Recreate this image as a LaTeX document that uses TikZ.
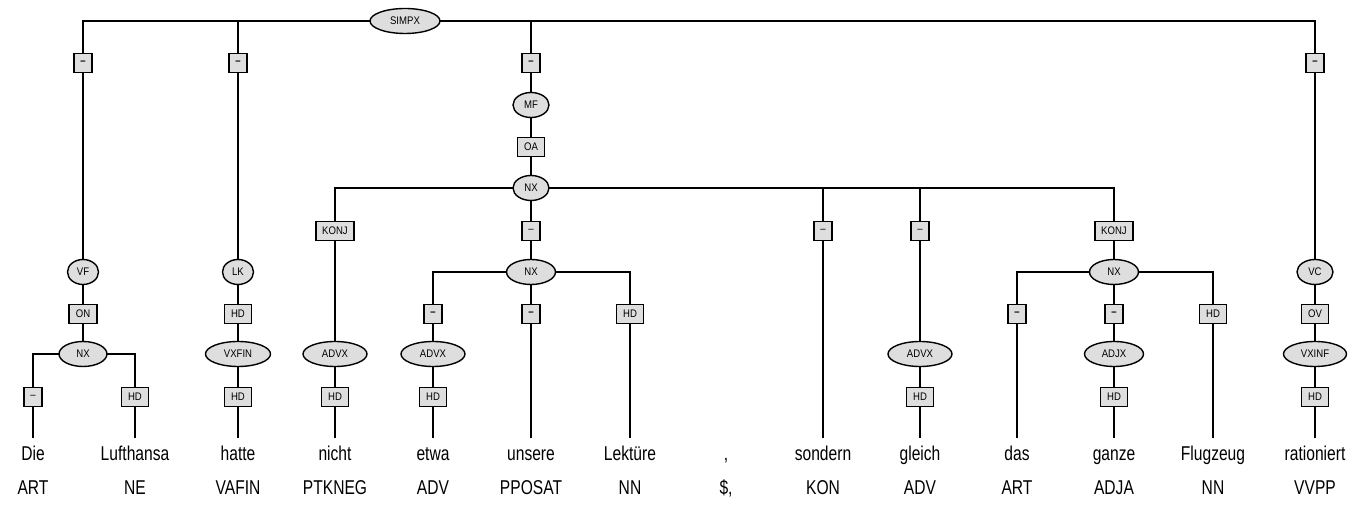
\documentclass[tikz,border=0pt]{standalone}
\usepackage{fontspec}
\setmainfont{Liberation Sans}[FakeStretch=0.78]
\newfontfamily\labfont{Liberation Sans}[FakeStretch=0.87]
\usetikzlibrary{shapes.geometric,backgrounds}
\definecolor{catfill}{gray}{0.87}
\tikzset{
  cat/.style={ellipse, draw, fill=catfill, line width=0.7pt, inner sep=0pt,
    minimum height=12.5pt, minimum width=#1, font=\labfont\fontsize{5.5}{6}\selectfont},
  cat/.default=18pt,
  fn/.style={rectangle, draw, fill=catfill, line width=0.95pt, inner xsep=3.3pt, inner ysep=0pt,
    minimum height=9.5pt, minimum width=8pt, font=\labfont\fontsize{5.5}{6}\selectfont},
  word/.style={anchor=base, inner xsep=0pt, inner ysep=4pt, text height=7.5pt, text depth=2pt,
    font=\fontsize{10}{12}\selectfont},
  tag/.style={anchor=base, inner sep=0pt, font=\fontsize{10}{12}\selectfont},
  edge/.style={line width=0.7pt}
}
\newcommand{\bd}{\textbf{\textendash}}
\newcommand{\nd}{\textendash}
\begin{document}
\begin{tikzpicture}[x=0.5pt, y=-0.5pt]
    \useasboundingbox (0,0) rectangle (1367,507);

    % top
    \node[cat=35pt] (simpx) at (405,21) {SIMPX};
    \node[fn] (fvf) at (83,63) {\bd};
    \node[fn] (flk) at (238,63) {\bd};
    \node[fn] (fmf) at (531,63) {\bd};
    \node[fn] (fvc) at (1315,63) {\bd};

    % VF
    \node[cat=15.5pt] (vf) at (83,272) {VF};
    \node[fn] (fon) at (83,314) {ON};
    \node[cat=24pt] (nxa) at (83,354) {NX};
    \node[fn] (fart) at (33,397) {\nd};
    \node[fn] (fhda) at (135,397) {HD};

    % LK
    \node[cat=15.5pt] (lk) at (238,272) {LK};
    \node[fn] (fhdb) at (238,314) {HD};
    \node[cat=32.5pt] (vxfin) at (238,354) {VXFIN};
    \node[fn] (fhdc) at (238,397) {HD};

    % MF
    \node[cat] (mf) at (531,105) {MF};
    \node[fn] (foa) at (531,147) {OA};
    \node[cat] (nxb) at (531,188) {NX};
    \node[fn] (fkonja) at (335,231) {KONJ};
    \node[cat=32pt] (advxa) at (335,354) {ADVX};
    \node[fn] (fhdd) at (335,397) {HD};
    \node[fn] (fnxc) at (531,231) {\nd};
    \node[cat=24.5pt] (nxc) at (531,272) {NX};
    \node[fn] (fetwa) at (433,314) {\bd};
    \node[cat=32pt] (advxb) at (433,354) {ADVX};
    \node[fn] (fhde) at (433,397) {HD};
    \node[fn] (funsere) at (531,314) {\bd};
    \node[fn] (fhdf) at (630,314) {HD};
    \node[fn] (fsondern) at (823,231) {\nd};
    \node[fn] (fgleich) at (920,231) {\nd};
    \node[cat=32pt] (advxc) at (920,354) {ADVX};
    \node[fn] (fhdg) at (920,397) {HD};
    \node[fn] (fkonjb) at (1114,231) {KONJ};
    \node[cat=24.5pt] (nxd) at (1114,272) {NX};
    \node[fn] (fdas) at (1017,314) {\bd};
    \node[fn] (fganze) at (1114,314) {\bd};
    \node[cat=29.5pt] (adjx) at (1114,354) {ADJX};
    \node[fn] (fhdh) at (1114,397) {HD};
    \node[fn] (fhdi) at (1213,314) {HD};

    % VC
    \node[cat] (vc) at (1315,272) {VC};
    \node[fn] (fov) at (1315,314) {OV};
    \node[cat=31.5pt] (vxinf) at (1315,354) {VXINF};
    \node[fn] (fhdj) at (1315,397) {HD};

    % words and tags
    \foreach \i/\x/\w/\t in {1/33/Die/ART, 2/135/Lufthansa/NE, 3/238/hatte/VAFIN,
        4/335/nicht/PTKNEG, 5/433/etwa/ADV, 6/531/unsere/PPOSAT, 7/630/Lektüre/NN,
        8/726/{,}/{\$,}, 9/823/sondern/KON, 10/920/gleich/ADV, 11/1017/das/ART,
        12/1114/ganze/ADJA, 13/1213/Flugzeug/NN, 14/1315/rationiert/VVPP} {
        \node[word] (w\i) at (\x,461) {\w};
        \node[tag] (p\i) at (\x,495) {\t};
    }

    % edges
    \begin{scope}[on background layer]
    \foreach \a/\b in {simpx/fvf, simpx/flk, simpx/fmf, simpx/fvc,
        fvf/vf, vf/fon, fon/nxa, nxa/fart, nxa/fhda, fart/w1, fhda/w2,
        flk/lk, lk/fhdb, fhdb/vxfin, vxfin/fhdc, fhdc/w3,
        fmf/mf, mf/foa, foa/nxb, nxb/fkonja, nxb/fnxc, nxb/fsondern, nxb/fgleich, nxb/fkonjb,
        fkonja/advxa, advxa/fhdd, fhdd/w4,
        fnxc/nxc, nxc/fetwa, nxc/funsere, nxc/fhdf, fetwa/advxb, advxb/fhde, fhde/w5,
        funsere/w6, fhdf/w7, fsondern/w9,
        fgleich/advxc, advxc/fhdg, fhdg/w10,
        fkonjb/nxd, nxd/fdas, nxd/fganze, nxd/fhdi, fdas/w11, fganze/adjx, adjx/fhdh,
        fhdh/w12, fhdi/w13,
        fvc/vc, vc/fov, fov/vxinf, vxinf/fhdj, fhdj/w14}
        \draw[edge] (\a.center) -| (\b);
    \end{scope}
\end{tikzpicture}
\end{document}
